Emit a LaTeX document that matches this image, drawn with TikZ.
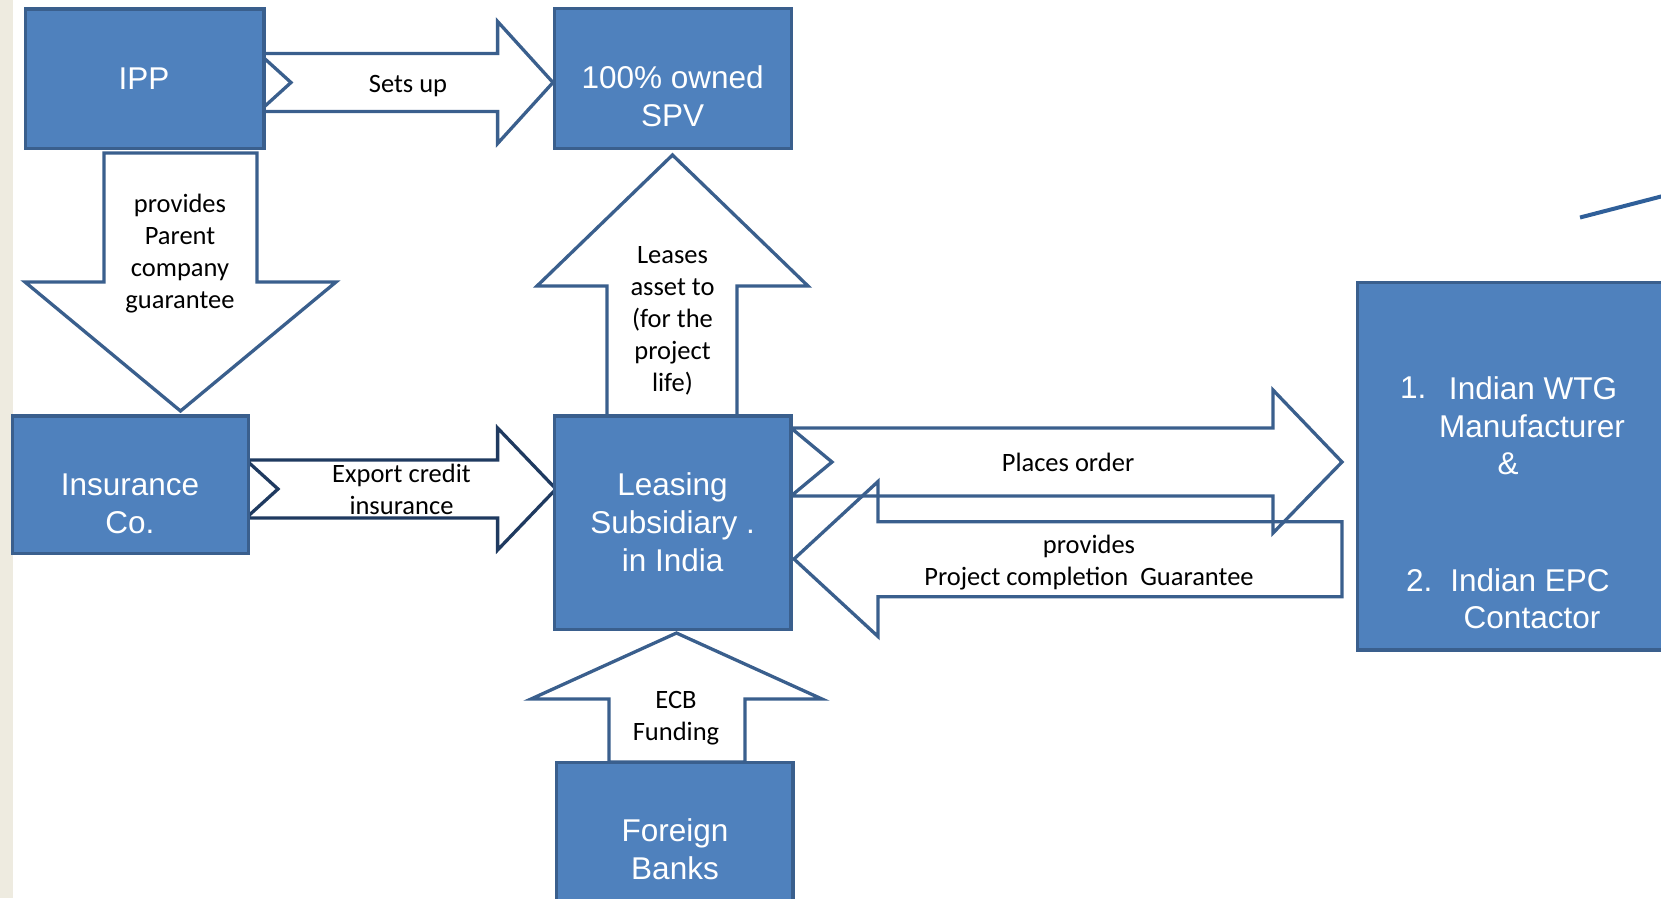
\documentclass[tikz,border=0pt]{standalone}
\usepackage{fontspec}
\setmainfont{Carlito}
\newfontfamily\boxfont{Liberation Sans}
\definecolor{boxfill}{HTML}{4F81BD}
\definecolor{boxline}{HTML}{3A5F8D}
\definecolor{arrline}{HTML}{3A5F8D}
\definecolor{navyline}{HTML}{1F3A60}
\definecolor{strip}{HTML}{EEEBE0}
\definecolor{slash}{HTML}{2F5F99}
\begin{document}
\begin{tikzpicture}[x=1pt,y=-1pt,
  box/.style={draw=boxline, fill=boxfill, line width=3.3pt, rectangle, inner sep=0pt},
  blockarrow/.style={draw=arrline, fill=white, line width=3.3pt, line join=miter},
  lbl/.style={font=\fontsize{26.5}{32}\selectfont, align=center, inner sep=0pt, text=black},
  boxlbl/.style={font=\boxfont\fontsize{31.5}{38}\selectfont, align=center, inner sep=0pt, text=white}]

\useasboundingbox (0,0) rectangle (1661,898);
\fill[strip] (0,0) rectangle (12.7,898);

% block arrows
\draw[blockarrow] (259,53.5) -- (497.6,53.5) -- (497.6,21.5) -- (553,82.5) -- (497.6,143.5)
  -- (497.6,111.5) -- (259,111.5) -- (291,82.5) -- cycle;
\draw[blockarrow] (104,153) -- (257,153) -- (257,282) -- (336,282) -- (180.5,411)
  -- (25,282) -- (104,282) -- cycle;
\draw[blockarrow] (607,416) -- (607,286) -- (537,286) -- (672.5,155) -- (808,286)
  -- (737,286) -- (737,416) -- cycle;
\draw[blockarrow, draw=navyline] (246,460) -- (497.6,460) -- (497.6,428) -- (556,489)
  -- (497.6,550) -- (497.6,518) -- (246,518) -- (278,489) -- cycle;
\draw[blockarrow] (1342,521.7) -- (878,521.7) -- (878,481.5) -- (794,559) -- (878,636.5)
  -- (878,596.7) -- (1342,596.7) -- cycle;
\draw[blockarrow, fill=none] (791,428) -- (1273,428) -- (1273,390) -- (1342,462)
  -- (1273,533) -- (1273,496) -- (791,496) -- (832,462) -- cycle;
\draw[blockarrow] (609,762) -- (609,699) -- (531,699) -- (676.5,633) -- (822,699)
  -- (745,699) -- (745,762) -- cycle;

% boxes
\node[box, minimum width=238.5pt, minimum height=139.3pt] (ipp) at (144.75,78.65) {};
\node[box, minimum width=237pt, minimum height=140pt] (spv) at (673,78.5) {};
\node[box, minimum width=236pt, minimum height=137.5pt] (ins) at (130.3,484.75) {};
\node[box, minimum width=236.5pt, minimum height=213.5pt] (lease) at (672.75,522.75) {};
\node[box, minimum width=236.3pt, minimum height=142.7pt] (banks) at (674.85,833.65) {};
\node[box, minimum width=312.3pt, minimum height=367.5pt] (vendor) at (1513.85,466.25) {};
\draw[slash, line width=4pt] (1580,217.5) coordinate (s1) -- (1663,196) coordinate (s2);

% box texts
\node[boxlbl] (ipptxt) at (144,78.2) {IPP};
\node[boxlbl] (spvtxt) at (672.6,96.5) {100\% owned\\SPV};
\node[boxlbl] (instxt) at (130,503.6) {Insurance\\Co.};
\node[boxlbl] (leasetxt) at (672.6,522.5) {Leasing\\Subsidiary .\\in India};
\node[boxlbl] (bankstxt) at (675,849.5) {Foreign\\Banks};
\node[boxlbl, anchor=west] (n1) at (1400,388) {1.};
\node[boxlbl] (wtg) at (1533,388) {Indian WTG};
\node[boxlbl] (manu) at (1532,426) {Manufacturer};
\node[boxlbl] (amp) at (1508,464) {\&};
\node[boxlbl, anchor=west] (n2) at (1406,580.6) {2.};
\node[boxlbl] (epc) at (1530,580.6) {Indian EPC};
\node[boxlbl] (cont) at (1532,617.6) {Contactor};

% arrow labels
\node[lbl] (setsup) at (408,86.2) {Sets up};
\node[lbl] (pcg) at (180,253.2) {provides\\Parent\\company\\guarantee};
\node[lbl] (leases) at (672.5,321.2) {Leases\\asset to\\(for the\\project\\life)};
\node[lbl] (eci) at (401.5,489.5) {Export credit\\insurance};
\node[lbl] (order) at (1068,462) {Places order};
\node[lbl] (pcomp) at (1089,562.2) {provides\\Project completion\ \ Guarantee};
\node[lbl] (ecb) at (676,717.7) {ECB\\Funding};
\end{tikzpicture}
\end{document}
